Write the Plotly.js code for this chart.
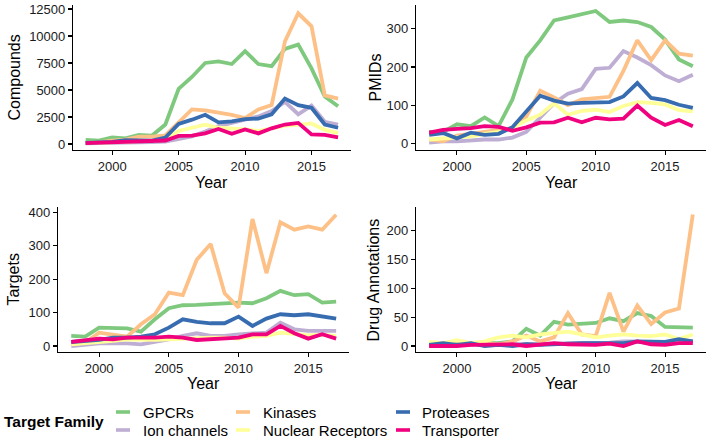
<!DOCTYPE html>
<html>
<head>
<meta charset="utf-8">
<script src="https://cdn.plot.ly/plotly-3.0.1.min.js"></script>
<style>
  html, body { margin: 0; padding: 0; background: #ffffff; }
  #chart { width: 709px; height: 438px; }
</style>
</head>
<body>
<div id="chart"></div>
<script>
// ---------------- data ----------------
const years = [1998,1999,2000,2001,2002,2003,2004,2005,2006,2007,2008,2009,2010,2011,2012,2013,2014,2015,2016,2017];
const families = ["GPCRs","Ion channels","Kinases","Nuclear Receptors","Proteases","Transporter"];
const familyColors = ["#7fc97f","#beaed4","#fdc086","#ffff99","#386cb0","#f0027f"];
const panelTitles = ["Compounds","PMIDs","Targets","Drug Annotations"];
const xTickVals = [2000,2005,2010,2015];
const xTickText = ["2000","2005","2010","2015"];
const yTickVals = [
  [0,2500,5000,7500,10000,12500],
  [0,100,200,300],
  [0,100,200,300,400],
  [0,50,100,150,200]
];
const xLabel = "Year";
const legendTitle = "Target Family";

// Compounds
const compGPCRs   = [370,300,600,520,830,780,1800,5100,6200,7500,7650,7400,8600,7400,7200,8800,9200,7000,4400,3500];
const compIon     = [50,60,80,120,150,180,220,460,700,1150,1650,1950,2250,2550,3050,3900,2750,3550,2050,1800];
const compKinases = [90,150,300,400,680,680,800,2000,3200,3100,2900,2700,2400,3200,3600,9500,12100,10900,4500,4200];
const compNR      = [60,100,150,200,250,300,400,1200,1500,1780,1500,1450,1360,1200,1450,1700,1760,1900,1300,1000];
const compProt    = [100,150,200,350,300,300,600,1850,2250,2700,2000,2100,2300,2350,2750,4200,3600,3350,1800,1500];
const compTrans   = [70,120,180,220,250,280,320,750,780,980,1380,950,1350,980,1450,1800,1950,880,850,620];

// PMIDs
const pmidGPCRs   = [30,30,50,45,68,45,115,225,270,322,330,338,347,318,322,318,305,272,220,202];
const pmidIon     = [2,5,5,8,10,10,15,30,68,105,130,142,195,198,242,225,205,178,163,180];
const pmidKinases = [10,5,20,25,30,35,40,70,138,120,100,115,118,122,190,270,218,270,235,230];
const pmidNR      = [10,12,15,18,25,30,40,60,75,105,75,85,88,82,98,108,106,102,87,84];
const pmidProt    = [22,27,13,28,22,25,42,85,125,112,104,106,108,108,123,158,119,113,101,93];
const pmidTrans   = [28,35,38,40,45,43,33,42,54,55,67,55,67,63,65,99,67,48,61,45];

// Targets
const targGPCRs   = [30,28,55,53,53,43,80,113,122,123,125,128,130,128,143,165,152,155,130,133];
const targIon     = [0,3,8,8,8,5,12,20,30,38,30,30,35,38,40,70,50,45,45,45];
const targKinases = [5,10,40,35,28,65,95,160,152,258,305,158,115,380,218,370,348,358,348,393];
const targNR      = [5,8,10,15,20,18,18,20,22,25,25,25,22,28,30,40,35,32,33,30];
const targProt    = [12,15,18,25,25,28,35,55,80,72,68,68,88,60,82,95,92,95,88,82];
const targTrans   = [12,18,22,20,25,25,25,28,25,18,20,22,25,35,35,60,38,22,35,22];

// Drug Annotations
const drugGPCRs   = [3,3,3,5,5,5,8,30,18,42,37,38,40,48,43,57,52,33,32,32];
const drugIon     = [0,2,2,3,3,3,3,3,4,4,5,5,5,6,8,8,5,5,8,8];
const drugKinases = [0,2,3,2,5,3,8,18,8,15,57,20,17,92,25,70,38,58,65,228];
const drugNR      = [7,5,10,5,8,15,18,15,20,22,25,20,15,18,20,18,17,20,12,20];
const drugProt    = [2,5,2,5,0,2,0,3,2,3,5,5,5,5,5,8,8,7,12,8];
const drugTrans   = [0,0,0,2,2,2,3,0,2,5,3,3,2,4,0,8,3,2,5,5];

const panelSeries = [
  [compGPCRs, compIon, compKinases, compNR, compProt, compTrans],
  [pmidGPCRs, pmidIon, pmidKinases, pmidNR, pmidProt, pmidTrans],
  [targGPCRs, targIon, targKinases, targNR, targProt, targTrans],
  [drugGPCRs, drugIon, drugKinases, drugNR, drugProt, drugTrans]
];

// ---------------- layout geometry (pixels) ----------------
const W = 709, H = 438;
const panels = [
  {x0: 73,  x1: 350.7, yTop: 5,   yBot: 150, yr: [-560, 12870], titleX: 14,  yearY: 182},
  {x0: 416, x1: 706,   yTop: 5,   yBot: 150, yr: [-17.5, 362.6], titleX: 375, yearY: 182},
  {x0: 58,  x1: 349.4, yTop: 207, yBot: 352, yr: [-18, 416],     titleX: 13,  yearY: 383},
  {x0: 416, x1: 706,   yTop: 207, yBot: 352, yr: [-10.4, 241],   titleX: 373, yearY: 383}
];
const FONT = "Liberation Sans, Arial, Helvetica, sans-serif";
const px2x = p => p / W;
const px2y = p => (H - p) / H;

const traces = [];
const layout = {
  width: W, height: H,
  margin: {l: 0, r: 0, t: 0, b: 0},
  paper_bgcolor: "#ffffff",
  plot_bgcolor: "rgba(0,0,0,0)",
  showlegend: false,
  font: {family: FONT, color: "#000000"},
  annotations: [],
  shapes: []
};

panels.forEach((p, i) => {
  const n = i + 1;
  const xa = n === 1 ? "x" : "x" + n;
  const ya = n === 1 ? "y" : "y" + n;
  families.forEach((f, k) => {
    traces.push({
      type: "scatter", mode: "lines",
      x: years, y: panelSeries[i][k],
      name: f, legendgroup: f,
      xaxis: xa, yaxis: ya,
      line: {color: familyColors[k], width: 3.8},
      hoverinfo: "x+y+name"
    });
  });
  const axCommon = {
    showline: true, linecolor: "#000000", linewidth: 1.1,
    ticks: "outside", ticklen: 4, tickwidth: 1.1, tickcolor: "#000000",
    showgrid: false, zeroline: false,
    tickfont: {family: FONT, size: 13, color: "#1a1a1a"},
    tickmode: "array",
    fixedrange: true
  };
  layout["xaxis" + (n === 1 ? "" : n)] = Object.assign({}, axCommon, {
    domain: [px2x(p.x0), px2x(p.x1)],
    range: [1997.05, 2017.95],
    tickvals: xTickVals, ticktext: xTickText,
    anchor: ya
  });
  layout["yaxis" + (n === 1 ? "" : n)] = Object.assign({}, axCommon, {
    domain: [px2y(p.yBot), px2y(p.yTop)],
    range: p.yr,
    tickvals: yTickVals[i], ticktext: yTickVals[i].map(String),
    anchor: xa
  });
  // axis titles
  layout.annotations.push({
    xref: "paper", yref: "paper",
    x: px2x(p.titleX), y: px2y((p.yTop + p.yBot) / 2),
    text: panelTitles[i], textangle: -90, showarrow: false,
    xanchor: "center", yanchor: "middle",
    font: {family: FONT, size: 16, color: "#000000"}
  });
  layout.annotations.push({
    xref: "paper", yref: "paper",
    x: px2x((p.x0 + p.x1) / 2), y: px2y(p.yearY),
    text: xLabel, showarrow: false,
    xanchor: "center", yanchor: "middle",
    font: {family: FONT, size: 16, color: "#000000"}
  });
});

// ---------------- legend (bottom, 3 columns x 2 rows, filled by column) ----------------
const legKeyX = [116, 236, 396];
const legTextX = [141, 261, 420];
const legRowY = [412, 430];
layout.annotations.push({
  xref: "paper", yref: "paper", x: px2x(1.5), y: px2y(421.5),
  text: "<b>" + legendTitle + "</b>", showarrow: false,
  xanchor: "left", yanchor: "middle",
  font: {family: FONT, size: 15.5, color: "#000000"}
});
families.forEach((f, k) => {
  const col = Math.floor(k / 2), row = k % 2;
  layout.shapes.push({
    type: "rect", xref: "paper", yref: "paper",
    x0: px2x(legKeyX[col]), x1: px2x(legKeyX[col] + 14),
    y0: px2y(legRowY[row] + 1.8), y1: px2y(legRowY[row] - 1.8),
    fillcolor: familyColors[k], line: {width: 0}
  });
  layout.annotations.push({
    xref: "paper", yref: "paper", x: px2x(legTextX[col]), y: px2y(legRowY[row]),
    text: f, showarrow: false, xanchor: "left", yanchor: "middle",
    font: {family: FONT, size: 15, color: "#000000"}
  });
});

Plotly.newPlot("chart", traces, layout, {displayModeBar: false, staticPlot: true});
</script>
</body>
</html>
